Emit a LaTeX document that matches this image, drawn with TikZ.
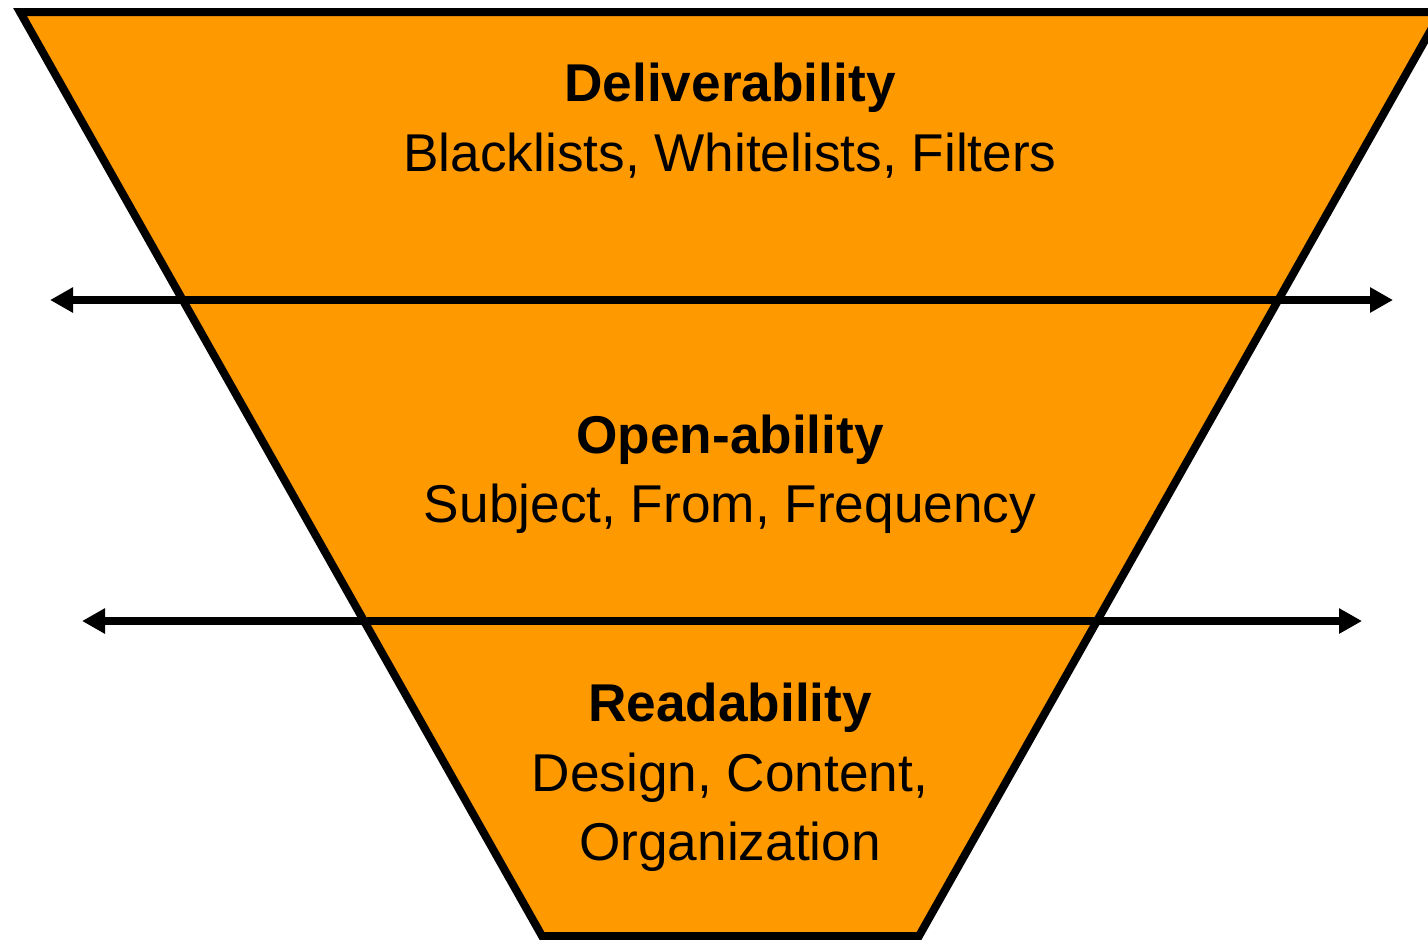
\documentclass[tikz,border=0pt]{standalone}
\usepackage{fontspec}
\setmainfont{Liberation Sans}
\usetikzlibrary{arrows.meta}
\definecolor{funnel}{HTML}{FF9900}
\begin{document}
\begin{tikzpicture}[x=0.5pt,y=-0.5pt,
  outline/.style={draw=black,line width=4pt,fill=funnel,line join=miter},
  divider/.style={draw=black,line width=4pt,{Triangle[length=11.5pt,width=12pt]}-{Triangle[length=11.5pt,width=12pt]}},
  head/.style={anchor=base,font=\fontsize{26.6}{30}\selectfont\bfseries,inner sep=0pt},
  body/.style={anchor=base,font=\fontsize{26.6}{30}\selectfont,inner sep=0pt}]
\useasboundingbox (0,0) rectangle (1428,939);
\clip (0,0) rectangle (1428,939);
\draw[outline] (20,12) -- (1441,12) -- (919,936) -- (542,936) -- cycle;
\coordinate (a1l) at (50,300);
\coordinate (a1r) at (1393,300);
\coordinate (a2l) at (82,621);
\coordinate (a2r) at (1362,621);
\draw[divider] (a1l) -- (a1r);
\draw[divider] (a2l) -- (a2r);
\node[head] (h1) at (730,101) {Deliverability};
\node[body] (b1) at (730,171) {Blacklists, Whitelists, Filters};
\node[head] (h2) at (730,453) {Open-ability};
\node[body] (b2) at (730,522) {Subject, From, Frequency};
\node[head] (h3) at (730,721) {Readability};
\node[body] (b3) at (730,791) {Design, Content,};
\node[body] (b4) at (730,860) {Organization};
\end{tikzpicture}
\end{document}
